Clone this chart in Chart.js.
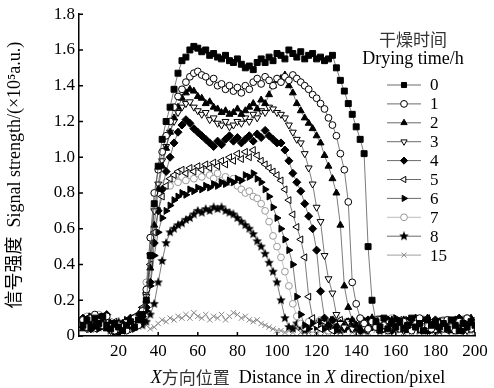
<!DOCTYPE html>
<html>
<head>
<meta charset="utf-8">
<script src="https://cdn.jsdelivr.net/npm/chart.js@4"></script>
<style>
  html, body { margin: 0; padding: 0; background: #fff; }
</style>
</head>
<body>
<canvas id="signalChart" width="494" height="388"></canvas>
<script>
// x position along the sample (pixel), sampled every 2 px
const xPosition = [
  2,4,6,8,10,12,14,16,18,20,
  22,24,26,28,30,32,34,36,38,40,
  42,44,46,48,50,52,54,56,58,60,
  62,64,66,68,70,72,74,76,78,80,
  82,84,86,88,90,92,94,96,98,100,
  102,104,106,108,110,112,114,116,118,120,
  122,124,126,128,130,132,134,136,138,140,
  142,144,146,148,150,152,154,156,158,160,
  162,164,166,168,170,172,174,176,178,180,
  182,184,186,188,190,192,194,196,198,200
];

// signal strength (x10^5 a.u.) for each drying time
const dry0h = [
  0.06,0.09,0.05,0.10,0.07,0.11,0.06,0.04,0.07,0.05,
  0.03,0.06,0.08,0.05,0.09,0.12,0.20,0.45,0.74,0.95,
  1.10,1.20,1.28,1.38,1.47,1.54,1.56,1.60,1.62,1.61,
  1.59,1.60,1.57,1.58,1.56,1.55,1.57,1.54,1.53,1.55,
  1.52,1.50,1.51,1.49,1.53,1.55,1.53,1.56,1.54,1.58,
  1.57,1.55,1.60,1.58,1.56,1.59,1.55,1.57,1.58,1.55,
  1.56,1.54,1.55,1.57,1.50,1.43,1.37,1.30,1.24,1.17,
  1.10,1.02,0.50,0.20,0.08,0.05,0.10,0.04,0.07,0.05,
  0.08,0.04,0.06,0.10,0.05,0.07,0.03,0.09,0.06,0.08,
  0.05,0.07,0.04,0.09,0.06,0.03,0.07,0.05,0.08,0.06
];
const dry1h = [
  0.09,0.05,0.10,0.12,0.08,0.06,0.11,0.05,0.03,0.06,
  0.05,0.03,0.07,0.10,0.06,0.14,0.26,0.55,0.80,0.93,
  1.03,1.12,1.20,1.28,1.34,1.38,1.42,1.45,1.47,1.48,
  1.46,1.45,1.42,1.44,1.40,1.41,1.38,1.40,1.37,1.39,
  1.36,1.40,1.38,1.42,1.44,1.41,1.45,1.43,1.40,1.44,
  1.42,1.45,1.43,1.46,1.44,1.42,1.40,1.38,1.35,1.33,
  1.30,1.27,1.22,1.18,1.12,1.02,0.93,0.75,0.30,0.18,
  0.10,0.07,0.04,0.08,0.05,0.09,0.06,0.03,0.07,0.05,
  0.04,0.08,0.06,0.03,0.07,0.10,0.05,0.06,0.04,0.08,
  0.07,0.04,0.09,0.05,0.03,0.08,0.06,0.10,0.04,0.07
];
const dry2h = [
  0.04,0.09,0.07,0.05,0.10,0.08,0.04,0.06,0.03,0.05,
  0.07,0.04,0.05,0.09,0.12,0.10,0.20,0.38,0.62,0.82,
  0.95,1.05,1.14,1.22,1.28,1.33,1.36,1.38,1.37,1.34,
  1.33,1.30,1.31,1.28,1.27,1.25,1.26,1.24,1.25,1.27,
  1.24,1.26,1.28,1.30,1.27,1.32,1.30,1.35,1.40,1.43,
  1.44,1.46,1.40,1.36,1.30,1.26,1.22,1.19,1.16,1.12,
  1.08,1.01,0.95,0.88,0.80,0.62,0.28,0.16,0.09,0.06,
  0.04,0.08,0.05,0.10,0.06,0.03,0.07,0.05,0.09,0.04,
  0.06,0.09,0.03,0.07,0.05,0.08,0.04,0.10,0.06,0.05,
  0.08,0.05,0.06,0.03,0.09,0.07,0.04,0.06,0.10,0.05
];
const dry3h = [
  0.07,0.04,0.08,0.06,0.11,0.07,0.05,0.03,0.06,0.04,
  0.06,0.08,0.04,0.07,0.10,0.15,0.22,0.45,0.70,0.85,
  0.98,1.06,1.14,1.20,1.25,1.28,1.30,1.31,1.28,1.26,
  1.24,1.25,1.21,1.22,1.19,1.18,1.20,1.17,1.18,1.20,
  1.19,1.22,1.20,1.24,1.22,1.26,1.25,1.28,1.27,1.25,
  1.24,1.22,1.18,1.14,1.10,1.08,1.02,0.94,0.85,0.72,
  0.64,0.45,0.32,0.24,0.12,0.07,0.05,0.08,0.04,0.06,
  0.09,0.05,0.03,0.07,0.06,0.10,0.04,0.08,0.05,0.07,
  0.05,0.03,0.08,0.06,0.09,0.04,0.07,0.05,0.08,0.03,
  0.06,0.09,0.05,0.07,0.04,0.08,0.06,0.03,0.07,0.09
];
const dry4h = [
  0.10,0.06,0.04,0.08,0.05,0.09,0.12,0.07,0.04,0.02,
  0.04,0.07,0.10,0.06,0.08,0.11,0.16,0.30,0.52,0.70,
  0.82,0.92,1.00,1.08,1.14,1.18,1.21,1.19,1.16,1.14,
  1.12,1.10,1.08,1.06,1.09,1.07,1.10,1.12,1.09,1.11,
  1.08,1.10,1.12,1.09,1.13,1.11,1.15,1.12,1.10,1.08,
  1.08,1.04,0.98,0.91,0.86,0.81,0.74,0.67,0.60,0.48,
  0.25,0.10,0.06,0.09,0.05,0.07,0.04,0.08,0.05,0.06,
  0.03,0.07,0.09,0.05,0.08,0.04,0.06,0.09,0.03,0.07,
  0.08,0.05,0.07,0.04,0.10,0.06,0.08,0.03,0.05,0.09,
  0.04,0.06,0.08,0.05,0.07,0.10,0.03,0.06,0.09,0.04
];
const dry5h = [
  0.05,0.10,0.08,0.04,0.07,0.05,0.09,0.06,0.08,0.05,
  0.03,0.05,0.09,0.11,0.07,0.16,0.24,0.40,0.58,0.70,
  0.78,0.84,0.88,0.90,0.92,0.93,0.91,0.94,0.92,0.95,
  0.93,0.96,0.94,0.97,0.95,0.98,0.96,1.00,0.98,1.02,
  0.99,1.03,1.00,1.04,1.01,0.98,0.96,0.94,0.92,0.90,
  0.87,0.82,0.76,0.68,0.61,0.54,0.44,0.22,0.10,0.06,
  0.04,0.08,0.05,0.03,0.07,0.09,0.04,0.06,0.08,0.05,
  0.07,0.04,0.06,0.09,0.05,0.03,0.08,0.06,0.04,0.07,
  0.09,0.05,0.07,0.04,0.06,0.08,0.05,0.10,0.04,0.06,
  0.05,0.08,0.03,0.07,0.09,0.04,0.06,0.05,0.08,0.07
];
const dry6h = [
  0.08,0.05,0.11,0.07,0.04,0.06,0.09,0.05,0.02,0.04,
  0.05,0.09,0.06,0.04,0.11,0.08,0.14,0.28,0.45,0.58,
  0.66,0.70,0.73,0.76,0.78,0.80,0.79,0.82,0.81,0.83,
  0.82,0.84,0.83,0.85,0.84,0.86,0.85,0.87,0.86,0.88,
  0.87,0.90,0.89,0.91,0.88,0.86,0.82,0.78,0.72,0.66,
  0.60,0.54,0.48,0.40,0.22,0.12,0.06,0.04,0.07,0.05,
  0.08,0.04,0.06,0.09,0.03,0.07,0.05,0.08,0.04,0.06,
  0.05,0.09,0.04,0.07,0.06,0.03,0.08,0.05,0.07,0.10,
  0.04,0.06,0.09,0.05,0.07,0.04,0.08,0.06,0.03,0.07,
  0.08,0.05,0.07,0.04,0.06,0.09,0.05,0.07,0.04,0.06
];
const dry7h = [
  0.06,0.11,0.09,0.06,0.12,0.10,0.05,0.08,0.04,0.06,
  0.04,0.07,0.05,0.10,0.08,0.14,0.30,0.55,0.72,0.80,
  0.84,0.86,0.84,0.88,0.86,0.89,0.87,0.90,0.88,0.91,
  0.89,0.92,0.90,0.88,0.91,0.87,0.89,0.86,0.88,0.84,
  0.82,0.80,0.81,0.78,0.77,0.74,0.70,0.64,0.56,0.50,
  0.44,0.36,0.28,0.18,0.11,0.07,0.05,0.08,0.04,0.06,
  0.09,0.05,0.03,0.07,0.10,0.06,0.04,0.08,0.05,0.07,
  0.04,0.06,0.09,0.05,0.07,0.03,0.08,0.06,0.10,0.05,
  0.07,0.04,0.06,0.08,0.05,0.09,0.03,0.07,0.05,0.06,
  0.05,0.09,0.06,0.04,0.08,0.05,0.07,0.10,0.04,0.06
];
const dry8h = [
  0.09,0.06,0.04,0.10,0.08,0.05,0.07,0.03,0.05,0.08,
  0.06,0.04,0.07,0.05,0.09,0.06,0.08,0.12,0.18,0.30,
  0.42,0.52,0.58,0.60,0.62,0.63,0.65,0.66,0.68,0.70,
  0.69,0.71,0.70,0.72,0.71,0.72,0.70,0.69,0.68,0.66,
  0.64,0.62,0.60,0.57,0.53,0.50,0.46,0.41,0.36,0.30,
  0.20,0.10,0.05,0.04,0.07,0.05,0.03,0.06,0.04,0.07,
  0.05,0.08,0.04,0.06,0.09,0.03,0.07,0.05,0.08,0.04,
  0.06,0.03,0.07,0.10,0.05,0.08,0.04,0.06,0.09,0.05,
  0.08,0.06,0.04,0.07,0.05,0.03,0.09,0.06,0.04,0.08,
  0.03,0.07,0.05,0.08,0.04,0.06,0.09,0.05,0.07,0.04
];
const dry15h = [
  0.07,0.05,0.09,0.06,0.04,0.08,0.05,0.03,0.06,0.04,
  0.05,0.07,0.04,0.06,0.05,0.08,0.06,0.04,0.05,0.07,
  0.09,0.08,0.10,0.09,0.11,0.10,0.12,0.10,0.13,0.11,
  0.10,0.12,0.09,0.11,0.10,0.12,0.09,0.11,0.13,0.12,
  0.10,0.11,0.09,0.08,0.09,0.07,0.06,0.05,0.04,0.03,
  0.03,0.02,0.03,0.02,0.04,0.02,0.03,0.02,0.03,0.02,
  0.03,0.02,0.04,0.02,0.03,0.02,0.03,0.04,0.02,0.03,
  0.02,0.03,0.02,0.04,0.03,0.02,0.03,0.02,0.04,0.03,
  0.03,0.02,0.03,0.02,0.04,0.03,0.02,0.03,0.02,0.03,
  0.02,0.04,0.03,0.02,0.03,0.02,0.04,0.03,0.02,0.03
];

const serif = "'Liberation Serif', 'Times New Roman', 'Noto Sans CJK SC', serif";

// small filled five-point star used as a marker
function makeStar(size, color) {
  const c = document.createElement('canvas');
  c.width = c.height = size;
  const g = c.getContext('2d');
  const r0 = size / 2, r1 = r0 * 0.45;
  g.beginPath();
  for (let k = 0; k < 10; k++) {
    const r = k % 2 ? r1 : r0;
    const a = -Math.PI / 2 + k * Math.PI / 5;
    g.lineTo(r0 + r * Math.cos(a), r0 + r * Math.sin(a));
  }
  g.closePath();
  g.fillStyle = color;
  g.fill();
  return c;
}

function series(label, values, style) {
  return Object.assign({
    label: label,
    data: xPosition.map((x, i) => ({ x: x, y: values[i] })),
    borderColor: '#444',
    borderWidth: 0.7,
    pointBorderColor: '#000',
    pointBackgroundColor: '#000',
    pointBorderWidth: 1,
    pointRadius: 3.4,
    pointRotation: 0,
    tension: 0
  }, style);
}

const datasets = [
  series('0', dry0h, { pointStyle: 'rect', pointRadius: 4.2 }),
  series('1', dry1h, { pointStyle: 'circle', pointBackgroundColor: '#fff' }),
  series('2', dry2h, { pointStyle: 'triangle', pointRadius: 4 }),
  series('3', dry3h, { pointStyle: 'triangle', pointRotation: 180, pointRadius: 4, pointBackgroundColor: '#fff' }),
  series('4', dry4h, { pointStyle: 'rectRot', pointRadius: 4 }),
  series('5', dry5h, { pointStyle: 'triangle', pointRotation: 270, pointRadius: 4, pointBackgroundColor: '#fff' }),
  series('6', dry6h, { pointStyle: 'triangle', pointRotation: 90, pointRadius: 4 }),
  series('7', dry7h, { pointStyle: 'circle', borderColor: '#aaa', pointBorderColor: '#999', pointBackgroundColor: '#fff' }),
  series('8', dry8h, { pointStyle: makeStar(10, '#000'), pointRadius: 4 }),
  series('15', dry15h, { pointStyle: 'crossRot', borderColor: '#888', pointBorderColor: '#888', pointRadius: 3.8 })
];

// inward ticks, legend and x-axis title
const decor = {
  id: 'decor',
  afterDatasetsDraw(chart) {
    const { ctx, chartArea: area, scales } = chart;
    ctx.save();
    ctx.strokeStyle = '#000';
    ctx.lineWidth = 1.5;
    ctx.beginPath();
    scales.x.ticks.forEach(t => {
      if (t.value === 0) return;
      const px = scales.x.getPixelForValue(t.value);
      ctx.moveTo(px, area.bottom);
      ctx.lineTo(px, area.bottom - 4);
    });
    scales.y.ticks.forEach(t => {
      const py = scales.y.getPixelForValue(t.value);
      ctx.moveTo(area.left, py);
      ctx.lineTo(area.left + 4, py);
    });
    ctx.stroke();
    ctx.restore();
  },
  afterDraw(chart) {
    const { ctx } = chart;
    ctx.save();
    ctx.fillStyle = '#000';

    // legend
    ctx.textAlign = 'center';
    ctx.textBaseline = 'middle';
    ctx.font = "17px 'Noto Sans CJK SC'";
    ctx.fillStyle = '#333';
    ctx.fillText('干燥时间', 413, 40);
    ctx.fillStyle = '#000';
    ctx.font = '18px ' + serif;
    ctx.fillText('Drying time/h', 413, 59);
    ctx.textAlign = 'left';
    ctx.font = '17px ' + serif;
    chart.data.datasets.forEach((ds, i) => {
      const y = 85 + i * 18.9;
      ctx.strokeStyle = ds.borderColor;
      ctx.lineWidth = 0.8;
      ctx.beginPath();
      ctx.moveTo(387, y);
      ctx.lineTo(421, y);
      ctx.stroke();
      ctx.fillStyle = ds.pointBackgroundColor;
      ctx.strokeStyle = ds.pointBorderColor;
      ctx.lineWidth = ds.pointBorderWidth;
      Chart.helpers.drawPoint(ctx, {
        pointStyle: ds.pointStyle,
        rotation: ds.pointRotation,
        radius: Math.min(ds.pointRadius, 3.6),
        borderWidth: ds.pointBorderWidth
      }, 404, y);
      ctx.fillStyle = '#000';
      ctx.fillText(ds.label, 430, y + 1);
    });

    // x-axis title with italic X
    const parts = [
      ['italic 18px ' + serif, 'X'],
      ["17px 'Noto Sans CJK SC'", '方向位置'],
      ['18px ' + serif, '  Distance in '],
      ['italic 18px ' + serif, 'X'],
      ['18px ' + serif, ' direction/pixel']
    ];
    let total = 0;
    parts.forEach(p => { ctx.font = p[0]; total += ctx.measureText(p[1]).width; });
    let tx = 298 - total / 2;
    ctx.textBaseline = 'middle';
    parts.forEach(p => {
      ctx.font = p[0];
      ctx.fillStyle = p[1] === '方向位置' ? '#333' : '#000';
      ctx.fillText(p[1], tx, 378);
      tx += ctx.measureText(p[1]).width;
    });
    ctx.restore();
  }
};

new Chart(document.getElementById('signalChart'), {
  type: 'line',
  data: { datasets: datasets },
  plugins: [decor],
  options: {
    responsive: false,
    animation: false,
    layout: { padding: { left: 0, right: 19, top: 14, bottom: 0 } },
    plugins: {
      legend: { display: false },
      tooltip: { enabled: false }
    },
    scales: {
      x: {
        type: 'linear',
        min: 0,
        max: 200,
        afterFit: s => { s.height = 52; },
        grid: { display: false, drawTicks: false },
        border: { display: true, color: '#000', width: 1.5 },
        ticks: {
          stepSize: 20,
          padding: 5,
          color: '#000',
          font: { family: serif, size: 17 },
          maxRotation: 0,
          callback: v => (v === 0 ? '' : v)
        }
      },
      y: {
        min: 0,
        max: 1.8,
        afterFit: s => { s.width = 79; },
        grid: { display: false, drawTicks: false },
        border: { display: true, color: '#000', width: 1.5 },
        title: {
          display: true,
          text: '信号强度  Signal strength/(×10⁵a.u.)',
          color: '#000',
          font: { family: serif, size: 18 },
          padding: { top: 4, bottom: 0 }
        },
        ticks: {
          stepSize: 0.2,
          padding: 4,
          color: '#000',
          font: { family: serif, size: 17 },
          callback: v => (Math.abs(v) < 1e-9 ? '0' : v.toFixed(1))
        }
      }
    }
  }
});
</script>
</body>
</html>
